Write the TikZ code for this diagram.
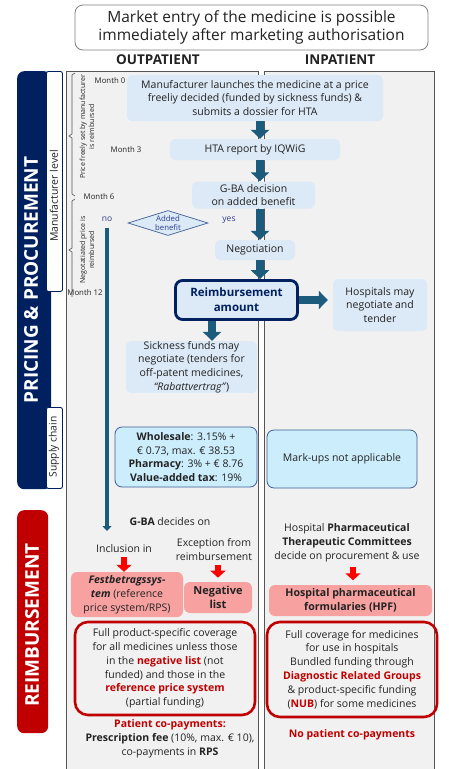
\documentclass[tikz,border=0pt]{standalone}
\usepackage{fontspec}
\setmainfont{Open Sans}
\usetikzlibrary{shapes.geometric,arrows.meta}
\definecolor{navy}{HTML}{002060}
\definecolor{redbar}{HTML}{C00000}
\definecolor{lblue}{HTML}{DCE9F6}
\definecolor{cyanb}{HTML}{CCEDFB}
\definecolor{cyanbd}{HTML}{3F5F95}
\definecolor{panelc}{HTML}{F1F1F1}
\definecolor{paneld}{HTML}{555555}
\definecolor{teal1}{HTML}{1C5B7C}
\definecolor{pinkb}{HTML}{F8A1A1}
\definecolor{redar}{HTML}{FF0000}
\definecolor{txtc}{HTML}{222222}
\definecolor{bluetxt}{HTML}{2E3D8F}
\newcommand{\txt}{\fontsize{10.5}{13.8}\selectfont}
\newcommand{\rd}[1]{\textcolor{redbar}{\textbf{#1}}}
\begin{document}
\begin{tikzpicture}[x=1pt,y=-1pt,
  every node/.style={inner sep=0pt, text=txtc},
  lbox/.style={fill=lblue, rounded corners=5pt, align=center, font=\txt},
  cbox/.style={fill=cyanb, draw=cyanbd, line width=0.8pt, rounded corners=7pt, align=center, font=\txt},
  pbox/.style={fill=pinkb, rounded corners=6pt, align=center, font=\txt},
  rbox/.style={draw=redbar, line width=2.6pt, rounded corners=13pt, align=center, font=\txt},
  plain/.style={align=center, font=\txt},
  month/.style={font=\fontsize{7.8}{8}\selectfont},
  small/.style={font=\fontsize{7}{9}\selectfont, align=center, rotate=90},
  barrow/.style={draw=teal1, line width=8pt, -{Triangle[width=18pt,length=9pt]}},
  rarrow/.style={draw=redar, line width=6pt, -{Triangle[width=15pt,length=7pt]}},
  brk/.style={draw=paneld, line width=0.6pt},
  whitebox/.style={fill=white, draw=navy, line width=0.9pt, rounded corners=2pt},
]
\useasboundingbox (0,0) rectangle (448,769);
% panels
\node[fill=panelc, draw=paneld, line width=0.8pt, minimum width=192, minimum height=710, anchor=north west] (outpanel) at (66,71) {};
\node[fill=panelc, draw=paneld, line width=0.8pt, minimum width=170, minimum height=710, anchor=north west] (inpanel) at (264,71) {};
% title
\node[draw=gray, line width=0.8pt, fill=white, rounded corners=8pt, minimum width=353, minimum height=45, align=center, font=\fontsize{15.5}{18}\selectfont] (title) at (251.5,27.5) {Market entry of the medicine is possible\\immediately after marketing authorisation};
\node[font=\fontsize{13.5}{15}\selectfont\bfseries] (outlab) at (158,60) {OUTPATIENT};
\node[font=\fontsize{13.5}{15}\selectfont\bfseries] (inlab) at (340,60) {INPATIENT};
% left bars
\node[fill=navy, rounded corners=7pt, minimum width=34, minimum height=418, anchor=north west] (pricebar) at (17,71) {};
\node[whitebox, minimum width=16, minimum height=220, anchor=north west] (manbox) at (46,71) {};
\node[whitebox, minimum width=16, minimum height=81, anchor=north west] (supbox) at (46,407) {};
\node[rotate=90, text=white, font=\fontsize{19}{20}\selectfont\bfseries] (pricetxt) at (31,280) {PRICING \& PROCUREMENT};
\node[rotate=90, font=\fontsize{10.5}{11}\selectfont] (mantxt) at (54,196) {Manufacturer level};
\node[rotate=90, font=\fontsize{10.3}{11}\selectfont] (suptxt) at (54,447) {Supply chain};
\node[fill=redbar, rounded corners=7pt, minimum width=31, minimum height=223, anchor=north west] (reimbar) at (17,510) {};
\node[rotate=90, text=white, font=\fontsize{19}{20}\selectfont\bfseries] (reimtxt) at (32,625) {REIMBURSEMENT};
% brackets
\draw[brk] (75,73) -- (72,75) -- (72,134) -- (69,136) -- (72,138) -- (72,194) -- (75,196);
\draw[brk] (75,199) -- (72,201) -- (72,248) -- (69,250) -- (72,252) -- (72,297);
\node[small] (pricefree) at (87,127) {Price freely set by manufacturer\\is reimbursed};
\node[small] (negprice) at (87,250) {Negotatiated price is\\reimbursed};
\node[month] (m0) at (110,81) {Month 0};
\node[month] (m3) at (126,150) {Month 3};
\node[month] (m6) at (99,197) {Month 6};
\node[month] (m12) at (85,293) {Month 12};
% flow
\node[lbox, minimum width=256, minimum height=46] (launch) at (255,98) {Manufacturer launches the medicine at a price\\freeliy decided (funded by sickness funds) \&\\submits a dossier for HTA};
\node[lbox, minimum width=170, minimum height=21] (hta) at (255,149.5) {HTA report by IQWiG};
\node[lbox, minimum width=123, minimum height=27, font=\fontsize{10.5}{13}\selectfont] (gba) at (253.5,195) {G-BA decision\\on added benefit};
\node[diamond, fill=lblue, draw=cyanbd, line width=0.7pt, minimum width=80, minimum height=25, aspect=3.2, align=center, text=bluetxt, font=\fontsize{7.8}{9}\selectfont] (added) at (168,223) {Added\\benefit};
\node[text=bluetxt, font=\fontsize{8.5}{9}\selectfont] (yes) at (229,220) {yes};
\node[text=bluetxt, font=\fontsize{8.5}{9}\selectfont] (no) at (107,219) {no};
\node[lbox, minimum width=80, minimum height=20] (nego) at (255,250) {Negotiation};
\node[fill=lblue, draw=navy, line width=2.8pt, rounded corners=7pt, minimum width=122, minimum height=39, align=center, text=navy, font=\fontsize{11.5}{15}\selectfont\bfseries] (reimb) at (236.5,300) {Reimbursement\\amount};
\node[lbox, minimum width=94, minimum height=52] (hosp) at (380,305) {Hospitals may\\negotiate and\\tender};
\node[lbox, minimum width=131, minimum height=51] (sick) at (191.5,367) {Sickness funds may\\negotiate (tenders for\\off-patent medicines,\\\textit{“Rabattvertrag”})};
\node[cbox, minimum width=142, minimum height=60] (whole) at (186,457) {\textbf{Wholesale}: 3.15\% +\\€ 0.73, max. € 38.53\\\textbf{Pharmacy}: 3\% + € 8.76\\\textbf{Value-added tax}: 19\%};
\node[cbox, minimum width=150, minimum height=58] (markup) at (342,459) {Mark-ups not applicable};
\coordinate (ax1) at (260,0);
\coordinate (ax2) at (212,0);
\coordinate (noend) at (107,531);
\draw[barrow] (launch.south -| ax1) -- (hta.north -| ax1);
\draw[barrow] (hta.south -| ax1) -- (gba.north -| ax1);
\draw[barrow] (gba.south -| ax1) -- (nego.north -| ax1);
\draw[barrow] (nego.south -| ax1) -- (reimb.north -| ax1);
\draw[barrow, shorten >=5pt] (reimb.east) -- (reimb.east -| hosp.west);
\draw[barrow] (reimb.south -| ax2) -- (sick.north -| ax2);
\draw[draw=teal1, line width=3.5pt, -{Triangle[width=9pt,length=5pt]}] (no.south) ++(0,6) -- (noend);
% reimbursement section
\node[plain] (gbadec) at (170,522) {\textbf{G-BA} decides on};
\node[plain] (incl) at (124,549) {Inclusion in};
\node[plain] (excep) at (214,549.5) {Exception from\\reimbursement};
\node[pbox, minimum width=112, minimum height=45] (fest) at (127,594.5) {\textbf{\textit{Festbetragssys-}}\\\textbf{\textit{tem}} (reference\\price system/RPS)};
\node[pbox, minimum width=68, minimum height=31, font=\fontsize{11}{14}\selectfont\bfseries] (neglist) at (218,597.5) {Negative\\list};
\node[plain] (hptc) at (347,543) {Hospital \textbf{Pharmaceutical}\\\textbf{Therapeutic Committees}\\decide on procurement \& use};
\node[pbox, minimum width=163, minimum height=31, font=\fontsize{10.6}{14}\selectfont\bfseries] (hpf) at (350.5,600.5) {Hospital pharmaceutical\\formularies (HPF)};
\draw[rarrow] (incl.south) ++(0,4) -- (incl.south |- fest.north);
\draw[rarrow] (excep.south) ++(4,4) -- ++(0,13);
\draw[rarrow] (hptc.south) ++(6,5) -- ++(0,13);
\node[rbox, minimum width=180, minimum height=93] (outcov) at (165,668.5) {Full product-specific coverage\\for all medicines unless those\\in the \rd{negative list} (not\\funded) and those in the\\\rd{reference price system}\\(partial funding)};
\node[rbox, minimum width=170, minimum height=95] (incov) at (352,669.5) {Full coverage for medicines\\for use in hospitals\\Bundled funding through\\\rd{Diagnostic Related Groups}\\\& product-specific funding\\(\rd{NUB}) for some medicines};
\node[plain] (copay) at (170,739) {\rd{Patient co-payments:}\\\textbf{Prescription fee} (10\%, max. € 10),\\co-payments in \textbf{RPS}};
\node[plain] (nocopay) at (352,735) {\rd{No patient co-payments}};
\end{tikzpicture}
\end{document}
